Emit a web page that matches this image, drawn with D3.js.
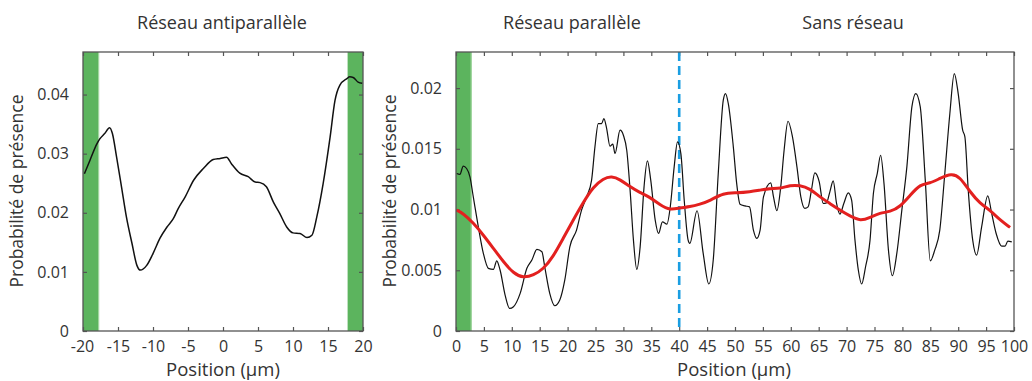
<!DOCTYPE html>
<html><head><meta charset="utf-8">
<script src="https://cdn.jsdelivr.net/npm/d3@7"></script>
<style>
html,body{margin:0;padding:0;background:#fff;}
text{font-family:"Open Sans",sans-serif;fill:#333;}
</style></head>
<body><svg id="c" width="1032" height="381"></svg>
<script>
// ---- data ----
const panelTitles = ["Réseau antiparallèle", "Réseau parallèle", "Sans réseau"];
const xLabel = "Position (µm)";
const yLabel = "Probabilité de présence";

const leftXTicks = [-20,-15,-10,-5,0,5,10,15,20];
const leftYTicks = [0,0.01,0.02,0.03,0.04];
const leftYTickLabels = ["0","0.01","0.02","0.03","0.04"];
const rightXTicks = [0,5,10,15,20,25,30,35,40,45,50,55,60,65,70,75,80,85,90,95,100];
const rightYTicks = [0,0.005,0.01,0.015,0.02];
const rightYTickLabels = ["0","0.005","0.01","0.015","0.02"];

const leftGratings = [[-20,-17.7],[17.8,20]];
const rightGratings = [[0,2.8]];
const separatorX = 40;

const antiparallel = [
[-19.8,0.0266],[-19.0,0.0289],[-18.0,0.0317],[-17.6,0.0325],[-16.9,0.0334],[-16.2,0.0344],
[-15.8,0.0334],[-15.2,0.0294],[-14.5,0.0244],[-13.8,0.0193],[-13.0,0.0148],[-12.3,0.0111],
[-11.8,0.0103],[-10.9,0.0111],[-10.0,0.0131],[-9.0,0.0157],[-8.0,0.0176],[-7.1,0.0190],
[-6.4,0.0207],[-5.4,0.0227],[-4.2,0.0255],[-2.8,0.0275],[-1.4,0.0290],[-0.4,0.0292],
[0.5,0.0294],[1.2,0.0283],[2.4,0.0267],[3.6,0.0261],[4.6,0.0252],[5.3,0.0251],[6.2,0.0244],
[7.2,0.0218],[8.1,0.0199],[9.1,0.0176],[10.0,0.0166],[11.0,0.0165],[12.0,0.0158],[12.7,0.0162],
[13.4,0.0193],[14.3,0.0249],[15.3,0.0328],[16.0,0.0390],[16.7,0.0416],[17.7,0.0427],
[18.1,0.0430],[18.6,0.0429],[19.3,0.0421],[19.9,0.0419]
];

const parallel = [
[0.1,0.01297],[0.7,0.0129],[1.3,0.01357],[1.9,0.01338],[2.5,0.01269],[3.1,0.01104],[4.0,0.00858],
[4.9,0.00639],[5.8,0.00516],[6.7,0.00507],[7.3,0.00578],[7.9,0.00502],[8.8,0.00296],[9.6,0.00186],
[10.3,0.0020],[11.5,0.0031],[12.7,0.00516],[13.6,0.00584],[14.5,0.00672],[15.4,0.00652],
[15.9,0.00529],[16.8,0.0031],[17.7,0.00208],[18.6,0.00255],[19.5,0.0042],[20.4,0.00693],
[21.6,0.0083],[22.5,0.00995],[23.4,0.01104],[24.3,0.01242],[24.9,0.01516],[25.5,0.01708],
[26.1,0.01708],[26.5,0.01749],[27.0,0.01667],[27.6,0.01521],[28.1,0.01538],[28.5,0.01461],
[29.4,0.01653],[30.0,0.01612],[30.6,0.01488],[31.2,0.0116],[31.8,0.00748],[32.4,0.00507],
[33.0,0.00693],[33.7,0.01187],[34.3,0.0140],[34.9,0.01242],[35.7,0.00913],[36.3,0.00803],
[37.0,0.00899],[37.8,0.0088],[38.4,0.01022],[39.1,0.01351],[39.7,0.01557],[40.3,0.01461],
[40.9,0.01077],[41.6,0.00748],[41.9,0.00721],[43.2,0.0099],[44.3,0.00639],[45.3,0.00387],
[46.1,0.00584],[47.0,0.01297],[47.9,0.0190],[48.3,0.01955],[48.8,0.01872],[49.7,0.01516],
[50.3,0.01215],[50.9,0.01044],[51.8,0.0103],[52.6,0.01022],[53.3,0.0083],[53.9,0.00762],
[54.5,0.0083],[55.1,0.01104],[56.4,0.0122],[56.9,0.01104],[57.5,0.0099],[58.2,0.01187],
[58.8,0.01488],[59.5,0.01727],[60.3,0.01598],[61.1,0.01351],[61.8,0.01104],[62.5,0.01009],
[63.1,0.01022],[63.7,0.0116],[64.3,0.01302],[65.1,0.01228],[65.8,0.0105],[66.4,0.01055],
[67.0,0.01146],[67.6,0.01236],[68.2,0.0105],[68.8,0.00962],[69.5,0.0105],[70.3,0.01137],
[70.9,0.01077],[71.5,0.00748],[72.1,0.00502],[72.7,0.00387],[73.4,0.00529],[74.2,0.00748],
[74.8,0.01132],[75.5,0.01297],[76.1,0.01447],[76.7,0.01215],[77.5,0.00666],[78.2,0.00455],
[79.0,0.00639],[79.9,0.00995],[80.8,0.01351],[81.7,0.01845],[82.4,0.01955],[83.2,0.01845],
[84.1,0.01242],[85.0,0.00578],[85.8,0.00666],[86.7,0.0083],[87.6,0.01297],[88.5,0.01789],
[89.3,0.02119],[90.0,0.01955],[90.8,0.01653],[91.2,0.01598],[91.8,0.0116],[92.6,0.00748],
[93.3,0.00625],[94.2,0.00858],[95.3,0.01113],[96.0,0.00968],[96.8,0.00803],[97.8,0.00699],
[98.4,0.00699],[98.9,0.0074],[99.6,0.00734]
];

const trend = [
[0.1,0.00995],[1.3,0.00968],[3.1,0.0089],[4.9,0.0079],[6.7,0.0068],[8.5,0.0057],[10.3,0.00474],
[12.1,0.00436],[13.9,0.0046],[15.6,0.00507],[17.4,0.00611],[19.2,0.00762],[21.0,0.00913],
[22.8,0.01058],[24.6,0.01187],[26.4,0.01256],[27.9,0.01275],[29.4,0.01248],[31.2,0.01187],
[33.0,0.01137],[34.5,0.0111],[36.6,0.01036],[38.4,0.00995],[40.1,0.01014],[41.9,0.01022],
[43.7,0.01044],[45.5,0.01072],[47.9,0.01137],[50.3,0.01137],[52.7,0.01146],[54.5,0.0116],
[56.3,0.01173],[58.1,0.01173],[59.9,0.0120],[61.6,0.0120],[63.4,0.01173],[65.2,0.01104],
[67.0,0.0105],[68.8,0.00995],[70.6,0.00946],[72.5,0.00905],[74.2,0.00935],[76.0,0.00973],
[77.8,0.00981],[79.6,0.01022],[81.4,0.01118],[83.2,0.01209],[84.9,0.01215],[86.7,0.01256],
[88.8,0.01297],[90.3,0.01269],[92.1,0.01146],[93.9,0.0105],[95.7,0.00995],[97.5,0.00913],
[99.3,0.00853]
];

// ---- drawing ----
const svg = d3.select("#c");
const frameColor = "#555";
const greenColor = "#5cb45e";

function panel(cfg){
  const g = svg.append("g");
  const x = d3.scaleLinear().domain(cfg.xDomain).range([cfg.left, cfg.right]);
  const y = d3.scaleLinear().domain(cfg.yDomain).range([cfg.bottom, cfg.top]);
  // gratings
  g.selectAll("rect.gr").data(cfg.gratings).join("rect")
    .attr("x", d => x(d[0])).attr("width", d => x(d[1]) - x(d[0]))
    .attr("y", cfg.top).attr("height", cfg.bottom - cfg.top)
    .attr("fill", greenColor);
  g.selectAll("line.gr").data(cfg.gratings.filter(d => d[1] < cfg.xDomain[1])).join("line")
    .attr("x1", d => x(d[1]) - 0.5).attr("x2", d => x(d[1]) - 0.5)
    .attr("y1", cfg.top).attr("y2", cfg.bottom)
    .attr("stroke", "#a9d9a6").attr("stroke-width", 1);
  // axes
  const tl = 4;
  const axB = d3.axisBottom(x).tickValues(cfg.xTicks).tickSize(-tl).tickPadding(10).tickFormat(d => String(d));
  const axT = d3.axisTop(x).tickValues(cfg.xTicks).tickSize(-tl).tickFormat("");
  const axL = d3.axisLeft(y).tickValues(cfg.yTicks).tickSize(-tl).tickPadding(14).tickFormat((d,i) => cfg.yTickLabels[i]);
  const axR = d3.axisRight(y).tickValues(cfg.yTicks).tickSize(-tl).tickFormat("");
  const style = sel => {
    sel.select(".domain").remove();
    sel.selectAll("line").attr("stroke", frameColor).attr("stroke-width", 1.2);
    sel.selectAll("text").attr("font-size", 16).attr("fill", "#333").attr("font-family", "Open Sans, sans-serif");
  };
  const bx = g.append("g").attr("transform", `translate(0,${cfg.bottom})`).call(axB).call(style);
  if (cfg.firstXLabelShift) bx.selectAll(".tick").filter(d => d === cfg.xTicks[0]).select("text").attr("dx", cfg.firstXLabelShift);
  g.append("g").attr("transform", `translate(0,${cfg.top})`).call(axT).call(style);
  g.append("g").attr("transform", `translate(${cfg.left},0)`).call(axL).call(style);
  g.append("g").attr("transform", `translate(${cfg.right},0)`).call(axR).call(style);
  return {g, x, y};
}

const P1 = {left:83, right:363, top:52, bottom:331, xDomain:[-20,20], yDomain:[0,0.0472],
  xTicks:leftXTicks, yTicks:leftYTicks, yTickLabels:leftYTickLabels, gratings:leftGratings, firstXLabelShift:-1};
const P2 = {left:456, right:1014, top:52, bottom:331, xDomain:[0,100], yDomain:[0,0.02297],
  xTicks:rightXTicks, yTicks:rightYTicks, yTickLabels:rightYTickLabels, gratings:rightGratings};

const a = panel(P1);
const b = panel(P2);

// separator
b.g.append("line")
  .attr("x1", b.x(separatorX)).attr("x2", b.x(separatorX))
  .attr("y1", P2.top).attr("y2", P2.bottom)
  .attr("stroke", "#1a9ee2").attr("stroke-width", 2.6).attr("stroke-dasharray", "9,5");

// curves
const lineA = d3.line().x(d => a.x(d[0])).y(d => a.y(d[1])).curve(d3.curveMonotoneX);
a.g.append("path").datum(antiparallel).attr("d", lineA)
  .attr("fill", "none").attr("stroke", "#111").attr("stroke-width", 1.5);

const lineB = d3.line().x(d => b.x(d[0])).y(d => b.y(d[1])).curve(d3.curveMonotoneX);
b.g.append("path").datum(parallel).attr("d", lineB)
  .attr("fill", "none").attr("stroke", "#111").attr("stroke-width", 1.2);
b.g.append("path").datum(trend).attr("d", lineB.curve(d3.curveBasis))
  .attr("fill", "none").attr("stroke", "#e3201f").attr("stroke-width", 3);

// frames
[P1, P2].forEach(p => {
  svg.append("rect").attr("x", p.left).attr("y", p.top)
    .attr("width", p.right - p.left).attr("height", p.bottom - p.top)
    .attr("fill", "none").attr("stroke", frameColor).attr("stroke-width", 1.3);
});

// titles
const titles = [[222, panelTitles[0]], [572, panelTitles[1]], [853, panelTitles[2]]];
svg.selectAll("text.title").data(titles).join("text").attr("class","title")
  .attr("x", d => d[0]).attr("y", 29).attr("text-anchor", "middle")
  .attr("font-size", 18).text(d => d[1]);

// x labels
[[223, xLabel], [734, xLabel]].forEach(d => {
  svg.append("text").attr("x", d[0]).attr("y", 376).attr("text-anchor", "middle")
    .attr("font-size", 18.5).text(d[1]);
});
// y labels
[[23, 191], [396, 191]].forEach(d => {
  svg.append("text").attr("transform", `translate(${d[0]},${d[1]}) rotate(-90)`)
    .attr("text-anchor", "middle").attr("font-size", 17.5).text(yLabel);
});
</script></body></html>
